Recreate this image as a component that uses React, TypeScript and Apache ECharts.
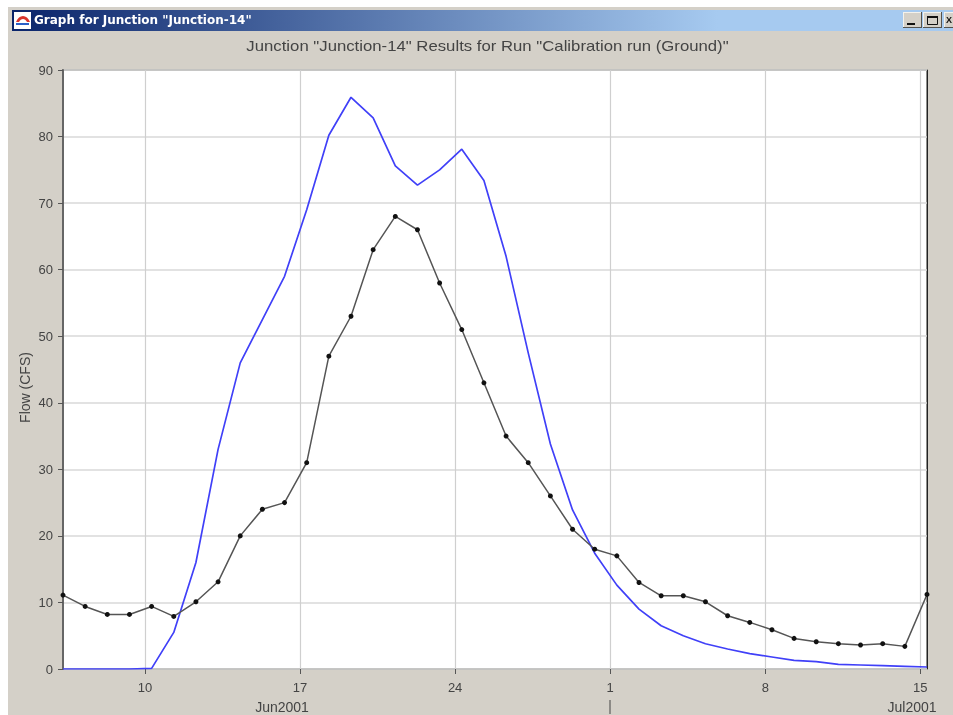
import React, { useEffect, useRef } from "react";
import * as echarts from "echarts";

// Day numbers counted from 31 May 2001 (1 Jul = 31)
const dayPositions = [
  6.3, 7.3, 8.3, 9.3, 10.3, 11.3, 12.3, 13.3, 14.3, 15.3, 16.3, 17.3, 18.3, 19.3, 20.3, 21.3, 22.3, 23.3, 24.3, 25.3,
  26.3, 27.3, 28.3, 29.3, 30.3, 31.3, 32.3, 33.3, 34.3, 35.3, 36.3, 37.3, 38.3, 39.3, 40.3, 41.3, 42.3, 43.3, 44.3, 45.3,
];
const computedFlow = [
  0, 0, 0, 0, 0.1, 5.5, 16, 33, 46, 52.5, 59, 69, 80.2, 85.9, 82.8, 75.6, 72.7, 75, 78.1, 73.4,
  62, 47.5, 33.8, 23.9, 17.4, 12.6, 9, 6.5, 5, 3.8, 3, 2.3, 1.8, 1.3, 1.1, 0.7, 0.6, 0.5, 0.4, 0.3,
];
const observedFlow = [
  11.1, 9.4, 8.2, 8.2, 9.4, 7.9, 10.1, 13.1, 20, 24, 25, 31, 47, 53, 63, 68, 66, 58, 51, 43,
  35, 31, 26, 21, 18, 17, 13, 11, 11, 10.1, 8, 7, 5.9, 4.6, 4.1, 3.8, 3.6, 3.8, 3.4, 11.2,
];
const tickDays = [10, 17, 24, 31, 38, 45];
const tickLabels = ["10", "17", "24", "1", "8", "15"];

const pair = (ys: number[]) => ys.map((y, i) => [dayPositions[i], y]);
const FONT = "'Liberation Sans', Arial, sans-serif";
const GREY = "#d4d0c8";

echarts.graphic.registerShape(
  "hecLogo",
  echarts.graphic.extendPath("M1 9C4 1 12 1 15 9L12 9C10 5 6 5 4 9Z", {}) as any
);

export default function App() {
  const ref = useRef<HTMLDivElement>(null);
  useEffect(() => {
    const chart = echarts.init(ref.current!, null, { renderer: "svg" });
    const winButton = (x: number, w: number, glyph: any[]) => ({
      type: "group",
      children: [
        { type: "rect", shape: { x, y: 12, width: w, height: 16 }, style: { fill: "#55534e" } },
        { type: "rect", shape: { x, y: 12, width: w - 1, height: 15 }, style: { fill: "#f4f2ec" } },
        { type: "rect", shape: { x: x + 1, y: 13, width: w - 2, height: 14 }, style: { fill: GREY } },
        ...glyph,
      ],
    });
    chart.setOption({
      animation: false,
      backgroundColor: "#ffffff",
      grid: {
        left: 63,
        right: 26,
        top: 70,
        bottom: 46,
        show: true,
        backgroundColor: "#fff",
        borderColor: "#6a6a66",
        borderWidth: 1.5,
      },
      xAxis: {
        type: "value",
        min: 6.3,
        max: 45.3,
        axisLine: { show: false },
        axisTick: { show: true, length: 5, customValues: tickDays, lineStyle: { color: "#555" } },
        axisLabel: {
          customValues: tickDays,
          margin: 12,
          color: "#444",
          fontFamily: FONT,
          fontSize: 13,
          formatter: (v: number) => tickLabels[tickDays.indexOf(v)] ?? "",
        },
        splitLine: { show: true, lineStyle: { color: "#cfcfcf", width: 1.2 } },
      },
      yAxis: {
        type: "value",
        min: 0,
        max: 90,
        interval: 10,
        axisLine: { show: true, lineStyle: { color: "#666", width: 2 } },
        axisTick: { show: true, length: 5, lineStyle: { color: "#555" } },
        axisLabel: { color: "#444", fontFamily: FONT, fontSize: 13, margin: 10 },
        splitLine: { show: true, lineStyle: { color: "#d8d8d8", width: 1.5 } },
      },
      series: [
        {
          name: "Computed",
          type: "line",
          data: pair(computedFlow),
          symbol: "none",
          smooth: false,
          lineStyle: { color: "#4040f8", width: 1.7 },
          z: 3,
        },
        {
          name: "Observed",
          type: "line",
          data: pair(observedFlow),
          symbol: "circle",
          symbolSize: 5,
          clip: true,
          itemStyle: { color: "#111" },
          lineStyle: { color: "#555", width: 1.5 },
          z: 4,
        },
      ],
      graphic: [
        {
          type: "group",
          z: -1,
          silent: true,
          children: [{ type: "rect", z: -10, shape: { x: 8, y: 7, width: 945, height: 708 }, style: { fill: GREY } }],
        },
        {
          type: "group",
          silent: true,
          children: [
            {
              type: "rect",
              shape: { x: 12, y: 10, width: 941, height: 21 },
              style: {
                fill: new echarts.graphic.LinearGradient(0, 0, 1, 0, [
                  { offset: 0, color: "#0a246a" },
                  { offset: 0.75, color: "#a6caf0" },
                  { offset: 1, color: "#a6caf0" },
                ]),
              },
            },
            { type: "rect", shape: { x: 14, y: 12, width: 17, height: 17 }, style: { fill: "#ffffff" } },
            { type: "hecLogo", x: 15, y: 13, style: { fill: "#d8342c" } },
            { type: "rect", shape: { x: 16, y: 23, width: 13, height: 2 }, style: { fill: "#2b5fc7" } },
            {
              type: "text",
              x: 34,
              y: 20,
              style: {
                text: 'Graph for Junction "Junction-14"',
                fill: "#fff",
                font: `bold 12px 'DejaVu Sans', Tahoma, sans-serif`,
                verticalAlign: "middle",
              },
            },
            winButton(903, 19, [{ type: "rect", shape: { x: 907, y: 23, width: 8, height: 2 }, style: { fill: "#111" } }]),
            winButton(923, 19, [
              { type: "rect", shape: { x: 927.5, y: 16.5, width: 10, height: 8 }, style: { fill: "none", stroke: "#111", lineWidth: 1 } },
              { type: "rect", shape: { x: 927, y: 16, width: 11, height: 2 }, style: { fill: "#111" } },
            ]),
            winButton(944, 19, [
              { type: "text", x: 949, y: 20, style: { text: "X", fill: "#111", font: `bold 9px ${FONT}`, align: "center", verticalAlign: "middle" } },
            ]),
            {
              type: "text",
              x: 487.5,
              y: 46,
              scaleX: 1.196,
              style: {
                text: 'Junction "Junction-14" Results for Run "Calibration run (Ground)"',
                fill: "#444",
                font: `14px ${FONT}`,
                align: "center",
                verticalAlign: "middle",
              },
            },
            {
              type: "text",
              x: 25,
              y: 387.5,
              rotation: Math.PI / 2,
              style: { text: "Flow (CFS)", fill: "#444", font: `14px ${FONT}`, align: "center", verticalAlign: "middle" },
            },
            { type: "text", x: 282, y: 707, style: { text: "Jun2001", fill: "#444", font: `14px ${FONT}`, align: "center", verticalAlign: "middle" } },
            { type: "text", x: 912, y: 707, style: { text: "Jul2001", fill: "#444", font: `14px ${FONT}`, align: "center", verticalAlign: "middle" } },
            { type: "line", shape: { x1: 610, y1: 700, x2: 610, y2: 714 }, style: { stroke: "#444", lineWidth: 1 } },
            { type: "line", shape: { x1: 927.5, y1: 70, x2: 927.5, y2: 669 }, style: { stroke: "#222", lineWidth: 1 } },
          ],
        },
      ],
    });
    return () => chart.dispose();
  }, []);
  return (
    <div
      ref={ref}
      style={{ position: "absolute", left: 0, top: 0, width: 953, height: 715, overflow: "hidden", filter: "blur(0.5px)" }}
    />
  );
}
